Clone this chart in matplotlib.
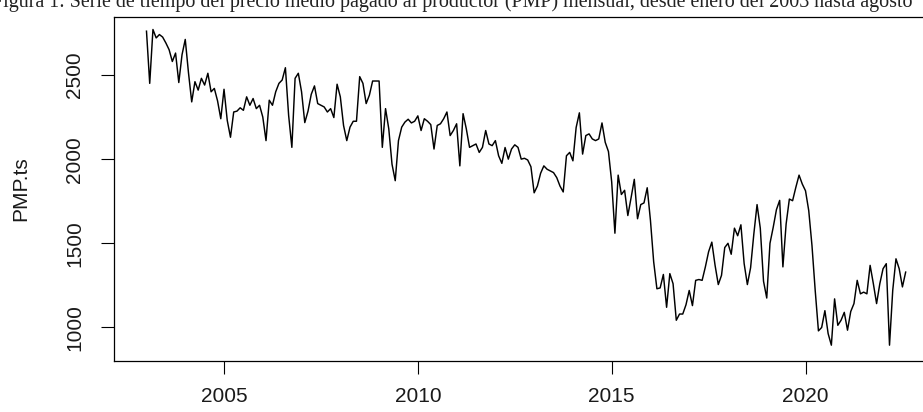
"""
Monthly PMP series (ts object, start Jan 2003, frequency 12) redrawn in the
look of an R base-graphics plot(PMP.ts) window.
"""

import numpy as np
import matplotlib
matplotlib.use("Agg")
import matplotlib.pyplot as plt

_OUT = "out.png"

# ts(start=c(2003, 1), frequency=12)
START_YEAR = 2003
FREQ = 12

PMP = [
    2760, 2450, 2770, 2720, 2740, 2725, 2690, 2650, 2580, 2630, 2455, 2620,  # 2003
    2711, 2513, 2340, 2460, 2410, 2480, 2440, 2510, 2400, 2420, 2346, 2240,  # 2004
    2415, 2230, 2130, 2280, 2285, 2305, 2290, 2370, 2320, 2360, 2300, 2320,  # 2005
    2250, 2110, 2350, 2320, 2400, 2450, 2470, 2543, 2260, 2070, 2480, 2510,  # 2006
    2400, 2217, 2285, 2385, 2435, 2330, 2320, 2310, 2280, 2300, 2247, 2445,  # 2007
    2370, 2200, 2110, 2190, 2225, 2225, 2490, 2450, 2330, 2380, 2464, 2464,  # 2008
    2464, 2070, 2300, 2180, 1970, 1872, 2110, 2190, 2220, 2237, 2215, 2225,  # 2009
    2257, 2170, 2240, 2225, 2205, 2060, 2200, 2210, 2240, 2280, 2140, 2170,  # 2010
    2210, 1960, 2270, 2180, 2070, 2080, 2090, 2040, 2070, 2170, 2090, 2080,  # 2011
    2110, 2020, 1975, 2069, 2000, 2060, 2085, 2070, 2000, 2005, 1995, 1955,  # 2012
    1800, 1840, 1916, 1960, 1940, 1930, 1920, 1890, 1840, 1805, 2020, 2040,  # 2013
    1990, 2188, 2275, 2030, 2140, 2150, 2120, 2110, 2120, 2215, 2100, 2045,  # 2014
    1865, 1560, 1905, 1790, 1815, 1665, 1770, 1880, 1646, 1730, 1740, 1830,  # 2015
    1636, 1390, 1230, 1235, 1315, 1120, 1320, 1260, 1043, 1080, 1080, 1135,  # 2016
    1220, 1130, 1280, 1285, 1280, 1360, 1450, 1507, 1370, 1255, 1310, 1475,  # 2017
    1500, 1435, 1590, 1545, 1610, 1380, 1255, 1355, 1555, 1730, 1590, 1275,  # 2018
    1175, 1500, 1595, 1700, 1755, 1360, 1615, 1763, 1753, 1832, 1905, 1852,  # 2019
    1812, 1694, 1487, 1220, 980, 1000, 1100, 964, 895, 1170, 1013, 1043,     # 2020
    1090, 984, 1095, 1142, 1280, 1200, 1210, 1200, 1369, 1260, 1142, 1260,   # 2021
    1349, 1379, 895, 1221, 1408, 1349, 1241, 1329,                           # 2022 (to Aug)
]

X_TICKS = [2005, 2010, 2015, 2020]
Y_TICKS = [1000, 1500, 2000, 2500]
Y_LABEL = "PMP.ts"
CAPTION = ("Figura 1: Serie de tiempo del precio medio pagado al productor (PMP) "
           "mensual, desde enero del 2003 hasta agosto")

W, H = 923, 412
FS = 15


def main():
    plt.rcParams["font.family"] = ["Liberation Sans", "DejaVu Sans"]
    t = START_YEAR + np.arange(len(PMP)) / FREQ

    fig = plt.figure(figsize=(W / 100, H / 100), dpi=100)
    # plot region in pixels: left 114, top 16.7, bottom 361, right off-canvas
    left, top, bottom, right = 114, 16.7, 361, 936
    ax = fig.add_axes([left / W, (H - bottom) / H, (right - left) / W, (bottom - top) / H])

    ax.plot(t, PMP, color="black", linewidth=1.05)

    ax.set_xlim(2002.162, 2023.366)
    ax.set_ylim(801, 2846)

    ax.set_xticks(X_TICKS)
    ax.set_xticklabels([str(v) for v in X_TICKS], fontsize=FS, color="#1a1a1a")
    ax.set_yticks(Y_TICKS)
    ax.set_yticklabels([str(v) for v in Y_TICKS], fontsize=FS, color="#1a1a1a",
                       rotation=90, va="center")
    ax.tick_params(axis="x", direction="out", length=9.4, width=0.8, pad=9.4)
    ax.tick_params(axis="y", direction="out", length=9.4, width=0.8, pad=12)
    for sp in ax.spines.values():
        sp.set_linewidth(0.9)
        sp.set_color("black")

    fig.text(21 / W, 1 - 189 / H, Y_LABEL, rotation=90, ha="center", va="center",
             fontsize=FS, color="#1a1a1a")

    # caption line of the surrounding document, cut by the top edge as in the screenshot
    fig.text(913 / W, 1 - 7 / H, CAPTION, ha="right", va="baseline",
             fontsize=14.4, family=["Liberation Serif", "DejaVu Serif"], color="#222222")

    fig.savefig(_OUT, dpi=100)
    print(f"Saved: {_OUT}")


if __name__ == "__main__":
    main()
